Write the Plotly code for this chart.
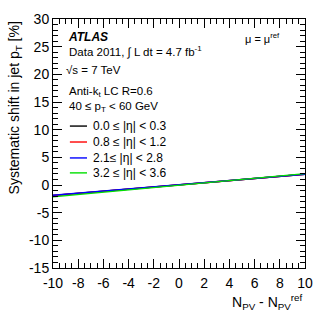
import plotly.graph_objects as go

npv = [-10, 0, 10]
labels = ["0.0 \u2264 |\u03b7| < 0.3", "0.8 \u2264 |\u03b7| < 1.2", "2.1\u2264 |\u03b7| < 2.8", "3.2 \u2264 |\u03b7| < 3.6"]
shift_eta0 = [-1.9, 0.05, 1.95]
shift_eta1 = [-1.9, 0.05, 1.95]
shift_eta2 = [-1.85, 0.08, 1.95]
shift_eta3 = [-2.15, 0.0, 2.05]
colors = ["#000000", "#ff0000", "#0000ff", "#00e000"]
xtick_vals = [-10, -8, -6, -4, -2, 0, 2, 4, 6, 8, 10]
ytick_vals = [-15, -10, -5, 0, 5, 10, 15, 20, 25, 30]

FONT = "Liberation Sans, Arial, Helvetica, sans-serif"
fig = go.Figure()
for ys, lab, c in zip([shift_eta0, shift_eta1, shift_eta2, shift_eta3], labels, colors):
    fig.add_trace(go.Scatter(x=npv, y=ys, mode="lines", name=lab,
                             line=dict(color=c, width=1.4)))

axis_common = dict(showgrid=False, zeroline=False, showline=True, linecolor="black",
                   linewidth=1, mirror="allticks", ticks="inside", tickcolor="black",
                   ticklen=9, tickfont=dict(family=FONT, size=14, color="black"))
fig.update_xaxes(range=[-10, 10], tickvals=xtick_vals,
                 ticktext=[str(v) for v in xtick_vals], ticklabelstandoff=2,
                 minor=dict(dtick=0.5, tick0=-10, ticks="inside", ticklen=5, tickcolor="black"),
                 **axis_common)
fig.update_yaxes(range=[-15, 30], tickvals=ytick_vals,
                 ticktext=[str(v) for v in ytick_vals],
                 minor=dict(dtick=1, tick0=-15, ticks="inside", ticklen=5, tickcolor="black"),
                 **axis_common)

fig.update_layout(
    width=332, height=319,
    margin=dict(l=53, r=27, t=19, b=51),
    paper_bgcolor="white", plot_bgcolor="white",
    font=dict(family=FONT, color="black"),
    showlegend=False,
)

# legend drawn as key lines + labels
leg_y = [0.570, 0.506, 0.442, 0.382]
for yy, lab, c in zip(leg_y, labels, colors):
    fig.add_shape(type="line", xref="paper", yref="paper", x0=0.067, x1=0.135,
                  y0=yy, y1=yy, line=dict(color=c, width=1.4))
    fig.add_annotation(x=0.151, y=yy, xref="paper", yref="paper", text=lab,
                       showarrow=False, xanchor="left", yanchor="middle",
                       font=dict(family=FONT, size=12, color="black"))

ann = [
    dict(x=0.052, y=0.928, text="<b><i>ATLAS</i></b>", size=12),
    dict(x=0.056, y=0.868, text="Data 2011, \u222b L dt = 4.7 fb<sup>-1</sup>", size=11.5),
    dict(x=0.044, y=0.795, text="\u221as = 7 TeV", size=11.5),
    dict(x=0.056, y=0.708, text="Anti-k<sub>t</sub> LC R=0.6", size=11.5),
    dict(x=0.056, y=0.645, text="40 \u2264 p<sub>T</sub> < 60 GeV", size=11.5),
    dict(x=0.755, y=0.925, text="\u03bc = \u03bc<sup>ref</sup>", size=11),
]
for a in ann:
    fig.add_annotation(x=a["x"], y=a["y"], xref="paper", yref="paper", text=a["text"],
                       showarrow=False, xanchor="left", yanchor="middle",
                       font=dict(family=FONT, size=a["size"], color="black"))

fig.add_annotation(x=-0.151, y=1.0, xref="paper", yref="paper",
                   text="Systematic shift in jet p<sub>T</sub> [%]", textangle=-90,
                   showarrow=False, xanchor="center", yanchor="top",
                   font=dict(family=FONT, size=14, color="black"))
fig.add_annotation(x=1.0, y=-0.137, xref="paper", yref="paper",
                   text="N<sub>PV</sub> - N<sub>PV</sub><sup>ref</sup>",
                   showarrow=False, xanchor="right", yanchor="middle",
                   font=dict(family=FONT, size=14, color="black"))

fig.write_html("out.html", config={"displayModeBar": False},
               post_script="document.body.style.margin='0';document.body.style.overflow='hidden';")
